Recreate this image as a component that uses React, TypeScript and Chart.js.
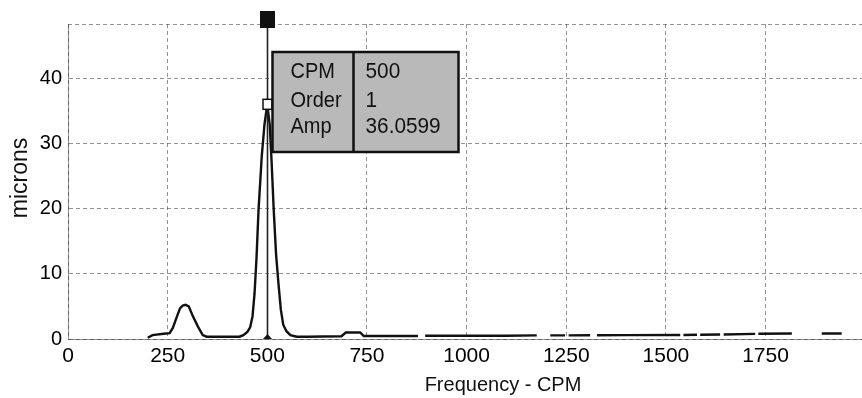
import React, { useEffect, useRef } from "react";
import { Chart, registerables } from "chart.js";

Chart.register(...registerables);

// Spectrum data (CPM vs microns); null = gap in the trace
const cpm: number[] = [
  200, 212, 240, 255, 263, 273, 281, 288, 295, 303, 314, 326, 338, 348, 430, 440, 450, 457, 463, 468, 473, 478, 486, 493, 500,
  506, 511, 516, 522, 528, 534, 540, 548, 558, 574, 600, 640, 686, 697, 733, 742, 800, 878,
  887, 896, 1000, 1100, 1176, 1193, 1210, 1247, 1251, 1256, 1310, 1318, 1327, 1400, 1536, 1540, 1544, 1578, 1582, 1586,
  1636, 1640, 1645, 1724, 1728, 1732, 1816, 1850, 1891, 1941
];
const amp: (number | null)[] = [
  0.2, 0.6, 0.8, 0.9, 1.7, 3.4, 4.7, 5.15, 5.25, 5.0, 3.4, 1.9, 0.6, 0.35, 0.35, 0.6, 1.1, 1.8, 3.5, 7, 12.5, 19.8, 28, 33, 36.06,
  33, 27, 20, 13, 8.5, 4.5, 2.2, 1.2, 0.6, 0.35, 0.35, 0.38, 0.42, 1.0, 1.0, 0.45, 0.45, 0.45,
  null, 0.5, 0.5, 0.5, 0.55, null, 0.55, 0.55, null, 0.55, 0.58, null, 0.58, 0.6, 0.62, null, 0.62, 0.65, null, 0.65,
  0.68, null, 0.7, 0.78, null, 0.8, 0.85, null, 0.85, 0.85
];

const xTicks: number[] = [0, 250, 500, 750, 1000, 1250, 1500, 1750];
const yTicks: number[] = [0, 10, 20, 30, 40];
const xMax = 1992;
const yMax = 48.4;

const cursorCpm = 500;
const cursorAmp = 36.0599;
const tipLabels: string[] = ["CPM", "Order", "Amp"];
const tipValues: string[] = ["500", "1", "36.0599"];

const xTitle = "Frequency - CPM";
const yTitle = "microns";

const FONT = "'Liberation Sans', Arial, sans-serif";
const GRID = "rgba(60,60,60,0.55)";

const overlay = {
  id: "overlay",
  afterDatasetsDraw(chart: any) {
    const { ctx, chartArea, scales } = chart;
    const xs = scales.x;
    const ys = scales.y;
    const cx = Math.round(xs.getPixelForValue(cursorCpm)) + 0.5;
    const py = ys.getPixelForValue(cursorAmp);
    const bottom = ys.getPixelForValue(0);
    ctx.save();

    // top dashed frame line
    ctx.strokeStyle = GRID;
    ctx.lineWidth = 1;
    ctx.setLineDash([4, 3]);
    ctx.beginPath();
    ctx.moveTo(chartArea.left, chartArea.top + 0.5);
    ctx.lineTo(chartArea.right, chartArea.top + 0.5);
    ctx.stroke();
    ctx.setLineDash([]);

    // cursor line
    ctx.strokeStyle = "#222";
    ctx.lineWidth = 1.6;
    ctx.beginPath();
    ctx.moveTo(cx, 26);
    ctx.lineTo(cx, bottom);
    ctx.stroke();

    // top square handle
    ctx.fillStyle = "#111";
    ctx.fillRect(cx - 7.5, 11, 15, 17);

    // peak marker
    ctx.fillStyle = "#fff";
    ctx.strokeStyle = "#111";
    ctx.lineWidth = 1.5;
    ctx.fillRect(cx - 4.5, py - 5, 9, 10);
    ctx.strokeRect(cx - 4.5, py - 5, 9, 10);

    // bottom triangle
    ctx.fillStyle = "#111";
    ctx.beginPath();
    ctx.moveTo(cx - 4.5, bottom);
    ctx.lineTo(cx + 4.5, bottom);
    ctx.lineTo(cx, bottom - 5);
    ctx.closePath();
    ctx.fill();

    // tooltip box
    const bx = cx + 5;
    const by = 52;
    const bw = 186;
    const bh = 100;
    ctx.fillStyle = "#b9b9b9";
    ctx.fillRect(bx, by, bw, bh);
    ctx.strokeStyle = "#111";
    ctx.lineWidth = 2.5;
    ctx.strokeRect(bx, by, bw, bh);
    ctx.beginPath();
    ctx.moveTo(bx + 81, by);
    ctx.lineTo(bx + 81, by + bh);
    ctx.stroke();

    ctx.fillStyle = "#111";
    ctx.font = `20px ${FONT}`;
    ctx.textBaseline = "middle";
    ctx.textAlign = "left";
    const rows = [by + 20, by + 49, by + 75];
    tipLabels.forEach((t, i) => {
      ctx.save();
      ctx.translate(bx + 18, rows[i]);
      ctx.scale(1, 1.12);
      ctx.fillText(t, 0, 0);
      ctx.restore();
    });
    tipValues.forEach((t, i) => {
      ctx.save();
      ctx.translate(bx + 93, rows[i]);
      ctx.scale(1.04, 1.12);
      ctx.fillText(t, 0, 0);
      ctx.restore();
    });

    // axis titles
    ctx.fillStyle = "#111";
    ctx.font = `20px ${FONT}`;
    ctx.textAlign = "center";
    ctx.fillText(xTitle, 503, 385);
    ctx.save();
    ctx.translate(21, 178);
    ctx.rotate(-Math.PI / 2);
    ctx.font = `23px ${FONT}`;
    ctx.fillText(yTitle, 0, 0);
    ctx.restore();

    ctx.restore();
  },
};

export default function App() {
  const ref = useRef<HTMLCanvasElement | null>(null);
  useEffect(() => {
    if (!ref.current) return;
    const points = cpm.map((x, i) => ({ x, y: amp[i] }));
    const chart = new Chart(ref.current, {
      type: "line",
      data: {
        datasets: [
          {
            data: points as any,
            borderColor: "#111",
            borderWidth: 2.4,
            pointRadius: 0,
            tension: 0,
            spanGaps: false,
          },
        ],
      },
      options: {
        animation: false,
        responsive: true,
        maintainAspectRatio: false,
        layout: { padding: { top: 24, left: 0, right: 0, bottom: 0 } },
        plugins: { legend: { display: false }, tooltip: { enabled: false } },
        scales: {
          x: {
            type: "linear",
            min: 0,
            max: xMax,
            afterBuildTicks: (s: any) => {
              s.ticks = xTicks.map((v) => ({ value: v }));
            },
            afterFit: (s: any) => {
              s.height = 59;
            },
            ticks: {
              autoSkip: false,
              maxRotation: 0,
              padding: 5,
              color: "#000",
              font: { size: 21, family: FONT },
              callback: (v: any) => String(v),
            },
            grid: { color: GRID, lineWidth: 1, drawTicks: false },
            border: { display: true, color: GRID, dash: [4, 3] },
          },
          y: {
            min: 0,
            max: yMax,
            afterBuildTicks: (s: any) => {
              s.ticks = yTicks.map((v) => ({ value: v }));
            },
            afterFit: (s: any) => {
              s.width = 68;
            },
            ticks: {
              padding: 6,
              color: "#000",
              font: { size: 20, family: FONT },
              callback: (v: any) => String(v),
            },
            grid: { color: GRID, lineWidth: 1, drawTicks: false },
            border: { display: true, color: GRID, dash: [4, 3] },
          },
        },
      },
      plugins: [overlay],
    });
    return () => chart.destroy();
  }, []);
  return (
    <div style={{ position: "absolute", left: 0, top: 0, width: 862, height: 398, background: "#fff" }}>
      <canvas ref={ref} />
    </div>
  );
}
